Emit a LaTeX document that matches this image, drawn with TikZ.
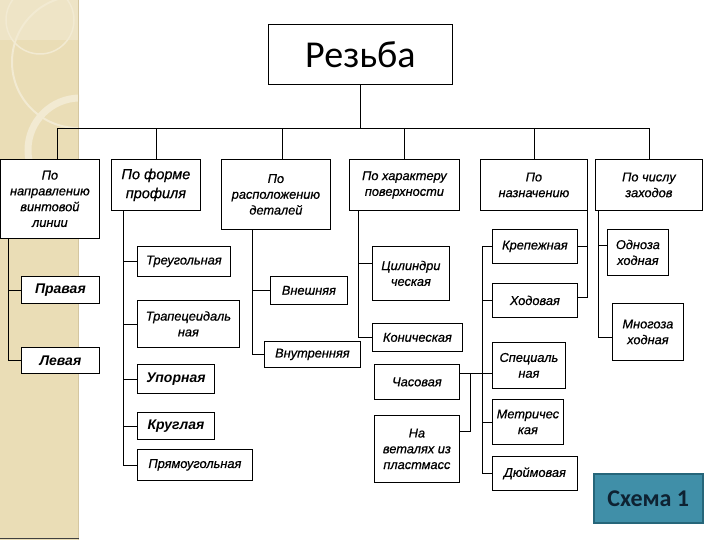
\documentclass[tikz,border=0pt]{standalone}
\usepackage{fontspec}
\newfontfamily\lblfont[FakeBold=0.6]{Liberation Sans}
\newfontfamily\lblfontb{Liberation Sans}
\newfontfamily\ttlfont{Carlito}
\usepackage{tikz}
\usetikzlibrary{positioning, calc}

\definecolor{strip}{RGB}{234,221,182}
\definecolor{stripl}{RGB}{242,234,210}
\definecolor{stripd}{RGB}{212,198,160}
\definecolor{teal1}{RGB}{64,143,168}
\definecolor{teal2}{RGB}{38,102,122}
\definecolor{navy1}{RGB}{14,34,50}

\begin{document}
\begin{tikzpicture}[x=1pt, y=-1pt,
    box/.style={draw, fill=white, line width=0.8pt, inner sep=0pt, align=center, anchor=north west,
        font=\lblfont\itshape\fontsize{12.8}{15.8}\selectfont},
    bbox/.style={box, font=\lblfontb\bfseries\itshape\fontsize{14}{17}\selectfont},
    wh/.style 2 args={minimum width=#1pt, minimum height=#2pt},
    link/.style={line width=0.8pt}]
    % background and left strip
    \useasboundingbox (0,0) rectangle (720,540);
    \fill[white] (0,0) rectangle (720,540);
    \fill[strip] (0,0) rectangle (79,540);
    \begin{scope}
        \clip (0,0) rectangle (79,540);
        \fill[stripl, opacity=.6] (0,0) rectangle (79,40);
        \draw[stripl, line width=2pt] (78,62) circle (66);
        \draw[stripl, line width=7pt] (80,150) circle (52);
        \draw[stripl, line width=1.5pt] (40,20) circle (34);
    \end{scope}
    \draw[stripd, line width=1.5pt] (78.5,0) -- (78.5,540);
    \draw[black!75, line width=1.5pt] (0,538.5) -- (79,538.5);

    % root and criteria
    \node[box, wh={184}{60}, font=\ttlfont\fontsize{38}{42}\selectfont] (title) at (268,24) {Резьба};
    \node[box, wh={99}{79}] (d1) at (0,159) {По\\направлению\\винтовой\\линии};
    \node[box, wh={89}{51}, font=\lblfont\itshape\fontsize{14.5}{19}\selectfont] (d2) at (111,159) {По форме\\профиля};
    \node[box, wh={109}{70}] (d3) at (221,159) {По\\расположению\\деталей};
    \node[box, wh={110}{51}] (d4) at (349,159) {По характеру\\поверхности};
    \node[box, wh={107}{51}] (d5) at (480,159) {По\\назначению};
    \node[box, wh={107}{51}] (d6) at (595,159) {По числу\\заходов};

    % direction
    \node[bbox, wh={78}{27}] (pv) at (21,276) {Правая};
    \node[bbox, wh={78}{26}] (lv) at (21,347) {Левая};
    % profile
    \node[box, wh={93}{30}] (tr) at (137,246) {Треугольная};
    \node[box, wh={102}{47}] (tp) at (137,300) {Трапецеидаль\\ная};
    \node[bbox, wh={77}{29}] (up) at (137,364) {Упорная};
    \node[bbox, wh={77}{27}] (kr) at (137,412) {Круглая};
    \node[box, wh={115}{31}] (pr) at (137,449) {Прямоугольная};
    % position
    \node[box, wh={77}{28}] (vn) at (270,276) {Внешняя};
    \node[box, wh={96}{26}] (vt) at (264,341) {Внутренняя};
    % surface
    \node[box, wh={77}{54}] (cy) at (372,246) {Цилиндри\\ческая};
    \node[box, wh={90}{28}] (ko) at (372,323) {Коническая};
    % purpose
    \node[box, wh={85}{34}] (kp) at (492,229) {Крепежная};
    \node[box, wh={85}{34}] (ho) at (492,283) {Ходовая};
    \node[box, wh={73}{46}] (sp) at (492,342) {Специаль\\ная};
    \node[box, wh={71}{45}] (me) at (492,399) {Метричес\\кая};
    \node[box, wh={85}{34}] (du) at (492,456) {Дюймовая};
    \node[box, wh={85}{35}] (ch) at (374,364) {Часовая};
    \node[box, wh={85}{67}] (pl) at (374,415) {На\\веталях из\\пластмасс};
    % starts
    \node[box, wh={61}{46}] (od) at (607,229) {Одноза\\ходная};
    \node[box, wh={71}{57}] (mn) at (612,303) {Многоза\\ходная};

    \node[box, wh={109}{49}, draw=teal2, fill=teal1, line width=1.5pt, text=navy1,
        font=\ttlfont\bfseries\fontsize{24}{27}\selectfont] (sx) at (593,473) {Схема 1};

    % bus
    \draw[link] (title.south) -- ++(0,44) coordinate (bus);
    \draw[link] ([xshift=7.5pt]d1.north) |- (bus) -| (d6.north);
    \draw[link] ([xshift=6.5pt]d3.north) -- ([xshift=6.5pt]d3.north |- bus);
    \foreach \n in {d2,d4,d5}
        \draw[link] (\n.north) -- (\n.north |- bus);

    % branches
    \foreach \n in {pv,lv}
        \draw[link] ([xshift=8pt]d1.south west) |- (\n.west);
    \foreach \n in {tr,tp,up,kr,pr}
        \draw[link] ([xshift=12pt]d2.south west) |- (\n.west);
    \foreach \n in {vn,vt}
        \draw[link] ([xshift=31pt]d3.south west) |- (\n.west);
    \draw[link] ([xshift=9pt]d4.south west) |- ([yshift=10pt]cy.west);
    \draw[link] ([xshift=9pt]d4.south west) |- (ko.west);
    \draw[link] (d5.south east) |- ([yshift=3pt]ho.east);
    \draw[link] (kp.east) -- (kp.east -| d5.south east);
    \draw[link] (kp.west) -- ++(-10,0) |- (du.west);
    \foreach \n in {ho,me}
        \draw[link] (\n.west) -- ++(-10,0);
    \draw[link] ([yshift=-8pt]sp.west) -- ([yshift=8.5pt]ch.east);
    \draw[link] ([yshift=18pt]pl.east) -| ($([yshift=8.5pt]ch.east)+(11,0)$);
    \draw[link] ([xshift=3pt]d6.south west) |- ([yshift=-5pt]mn.west);
    \draw[link] ([xshift=3pt]d6.south west) |- ([yshift=7pt]od.west);
\end{tikzpicture}
\end{document}
